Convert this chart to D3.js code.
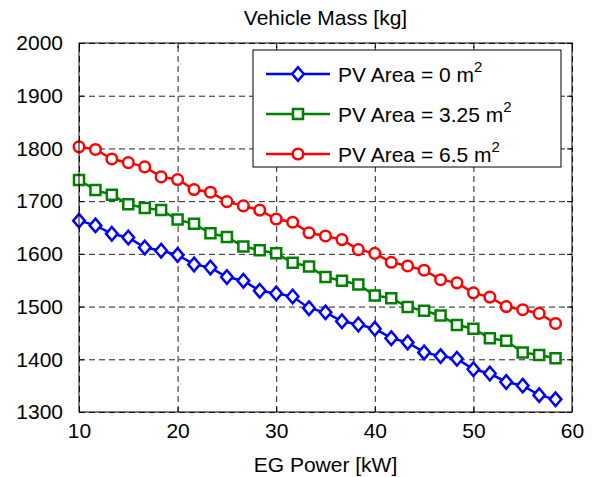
<!DOCTYPE html>
<html>
<head>
<meta charset="utf-8">
<script src="https://cdn.jsdelivr.net/npm/d3@7"></script>
<style>
  body { margin: 0; background: #fff; }
  text { font-family: "Liberation Sans", Arial, sans-serif; fill: #000; }
</style>
</head>
<body>
<div id="chart"></div>
<script>
// data
var xValues = [10, 11.67, 13.33, 15, 16.67, 18.33, 20, 21.67, 23.33, 25,
               26.67, 28.33, 30, 31.67, 33.33, 35, 36.67, 38.33, 40, 41.67,
               43.33, 45, 46.67, 48.33, 50, 51.67, 53.33, 55, 56.67, 58.33];
var massPV0 = [1663, 1654, 1638, 1631, 1612, 1606, 1598, 1580, 1574, 1556,
               1549, 1530, 1525, 1519, 1497, 1489, 1472, 1466, 1458, 1440,
               1432, 1413, 1406, 1401, 1381, 1373, 1357, 1350, 1332, 1324];
var massPV325 = [1740, 1721, 1712, 1694, 1687, 1683, 1665, 1657, 1639, 1632,
                 1614, 1607, 1601, 1583, 1576, 1556, 1549, 1542, 1521, 1516,
                 1499, 1492, 1483, 1465, 1458, 1440, 1435, 1413, 1408, 1402];
var massPV65 = [1803, 1798, 1780, 1773, 1765, 1746, 1741, 1722, 1717, 1699,
                1691, 1683, 1666, 1660, 1640, 1634, 1627, 1608, 1601, 1584,
                1577, 1569, 1551, 1545, 1526, 1518, 1500, 1494, 1487, 1468];
var seriesNames = ["PV Area = 0 m", "PV Area = 3.25 m", "PV Area = 6.5 m"];
var xTicks = [10, 20, 30, 40, 50, 60];
var yTicks = [1300, 1400, 1500, 1600, 1700, 1800, 1900, 2000];

var series = [
  {name: seriesNames[0], values: massPV0, color: "#0000ff", marker: "diamond"},
  {name: seriesNames[1], values: massPV325, color: "#008000", marker: "square"},
  {name: seriesNames[2], values: massPV65, color: "#ff0000", marker: "circle"}
];

var margin = {top: 43, right: 20, bottom: 65, left: 79},
    width = 592 - margin.left - margin.right,
    height = 477 - margin.top - margin.bottom;

var svgRoot = d3.select("#chart").append("svg")
  .attr("width", 592)
  .attr("height", 477);

var svg = svgRoot.append("g")
  .attr("transform", "translate(" + margin.left + "," + margin.top + ")");

var x = d3.scaleLinear().domain([10, 60]).range([0, width]);
var y = d3.scaleLinear().domain([1300, 2000]).range([height, 0]);

// grid
svg.append("g")
  .attr("class", "grid")
  .attr("transform", "translate(0," + height + ")")
  .call(d3.axisBottom(x).tickValues(xTicks).tickSize(-height).tickFormat(""))
  .call(g => g.select(".domain").remove());
svg.append("g")
  .attr("class", "grid")
  .call(d3.axisLeft(y).tickValues(yTicks).tickSize(-width).tickFormat(""))
  .call(g => g.select(".domain").remove());
svg.selectAll(".grid line")
  .attr("stroke", "#222")
  .attr("stroke-width", 1)
  .attr("stroke-dasharray", "6,4");

// axes with inward ticks
svg.append("g")
  .attr("transform", "translate(0," + height + ")")
  .call(d3.axisBottom(x).tickValues(xTicks).tickSizeInner(-5).tickSizeOuter(0).tickPadding(11));
svg.append("g")
  .call(d3.axisLeft(y).tickValues(yTicks).tickSizeInner(-5).tickSizeOuter(0).tickPadding(16).tickFormat(d3.format("d")));
svg.append("g")
  .call(d3.axisTop(x).tickValues(xTicks).tickSizeInner(-5).tickSizeOuter(0).tickFormat(""));
svg.append("g")
  .attr("transform", "translate(" + width + ",0)")
  .call(d3.axisRight(y).tickValues(yTicks).tickSizeInner(-5).tickSizeOuter(0).tickFormat(""));
svg.selectAll(".tick text").style("font-size", "21px").attr("fill", "#000");
svg.selectAll(".domain").remove();

// lines
var line = d3.line()
  .x(function(d, i) { return x(xValues[i]); })
  .y(function(d) { return y(d); });

function markerPath(type) {
  if (type === "diamond") return "M0,-6.8L5.8,0L0,6.8L-5.8,0Z";
  return "M-5,-5H5V5H-5Z";
}

function drawMarker(sel, s) {
  if (s.marker === "circle") {
    sel.append("circle").attr("r", 5.3);
  } else {
    sel.append("path").attr("d", markerPath(s.marker));
  }
  sel.selectAll("circle, path")
    .attr("fill", "#fff")
    .attr("stroke", s.color)
    .attr("stroke-width", 2.5);
}

series.forEach(function(s) {
  svg.append("path")
    .datum(s.values)
    .attr("fill", "none")
    .attr("stroke", s.color)
    .attr("stroke-width", 2.5)
    .attr("d", line);

  svg.append("g").selectAll("g")
    .data(s.values)
    .enter()
    .append("g")
    .attr("transform", function(d, i) { return "translate(" + x(xValues[i]) + "," + y(d) + ")"; })
    .each(function() { drawMarker(d3.select(this), s); });
});

// box
svg.append("rect")
  .attr("width", width)
  .attr("height", height)
  .attr("fill", "none")
  .attr("stroke", "#000")
  .attr("stroke-width", 1);

// legend
var legend = svgRoot.append("g").attr("transform", "translate(253,50)");
legend.append("rect")
  .attr("width", 308)
  .attr("height", 117)
  .attr("fill", "#fff")
  .attr("stroke", "#000")
  .attr("stroke-width", 1);

series.forEach(function(s, i) {
  var row = legend.append("g").attr("transform", "translate(0," + (24 + i * 40) + ")");
  row.append("line")
    .attr("x1", 13).attr("x2", 77)
    .attr("stroke", s.color)
    .attr("stroke-width", 2.5);
  var m = row.append("g").attr("transform", "translate(45,0)");
  drawMarker(m, s);
  var t = row.append("text")
    .attr("x", 85)
    .attr("y", 8)
    .style("font-size", "21px")
    .text(s.name);
  t.append("tspan")
    .attr("dy", -10)
    .style("font-size", "15px")
    .text("2");
});

// titles
svgRoot.append("text")
  .attr("x", margin.left + width / 2)
  .attr("y", 25)
  .attr("text-anchor", "middle")
  .style("font-size", "21px")
  .text("Vehicle Mass [kg]");

svgRoot.append("text")
  .attr("x", margin.left + width / 2)
  .attr("y", 472)
  .attr("text-anchor", "middle")
  .style("font-size", "21px")
  .text("EG Power [kW]");
</script>
</body>
</html>
